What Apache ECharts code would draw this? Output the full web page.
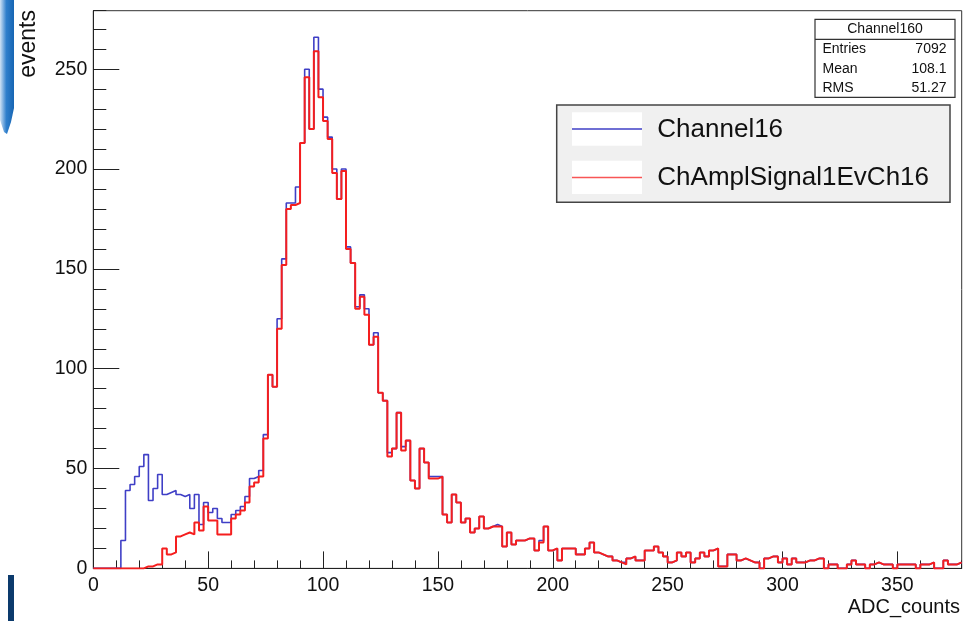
<!DOCTYPE html>
<html>
<head>
<meta charset="utf-8">
<script src="https://cdn.jsdelivr.net/npm/echarts@6/dist/echarts.min.js"></script>
<style>
  html, body { margin: 0; padding: 0; background: #ffffff; }
  #chart { width: 968px; height: 621px; }
</style>
</head>
<body>
<div id="chart"></div>
<script>
// Histogram binning (ADC counts)
const binWidth = 2;
const xMin = 0;
const xMax = 378;
const yMax = 279.3;

// Bin contents, one value per 2-count bin starting at 0
const channel16 = [
  0, 0, 0, 0, 0, 0,
  14, 39, 42, 46, 51, 57,
  34, 40, 47, 37, 38, 39,
  37, 36, 37, 30, 37, 22,
  33, 28, 30, 25, 23, 23,
  27, 29, 31, 36, 45, 46,
  49, 67, 97, 91, 125, 155,
  183, 183, 191, 213, 250, 220,
  266, 240, 226, 216, 200, 185,
  200, 161, 153, 131, 137, 130,
  112, 118, 88, 84, 58, 60,
  78, 61, 64, 44, 40, 60,
  53, 46, 46, 46, 27, 23,
  37, 33, 23, 25, 18, 20,
  26, 20, 21, 22, 21, 11,
  18, 12, 14, 14, 15, 15,
  9, 14, 21, 9, 10, 4,
  10, 10, 10, 7, 7, 10,
  13, 8, 7, 6, 6, 4,
  3, 3, 5, 6, 4, 4,
  9, 9, 11, 8, 6, 3,
  4, 8, 6, 8, 3, 5,
  8, 6, 9, 10, 1, 1,
  7, 7, 4, 5, 4, 3,
  3, 0, 5, 6, 6, 3,
  5, 2, 5, 3, 3, 4,
  4, 5, 5, 0, 2, 2,
  0, 0, 2, 4, 2, 2,
  0, 2, 3, 2, 2, 2,
  0, 2, 2, 2, 2, 0,
  2, 2, 3, 0, 0, 4,
  2, 2, 3
];

const chAmplSignal1EvCh16 = [
  0, 0, 0, 0, 0, 0,
  0, 0, 0, 0, 0, 1,
  1, 2, 2, 10, 7, 8,
  16, 17, 18, 17, 23, 19,
  31, 24, 24, 17, 17, 17,
  25, 27, 29, 33, 41, 43,
  46, 65, 97, 91, 120, 152,
  180, 182, 183, 213, 246, 220,
  259, 236, 224, 215, 198, 185,
  199, 160, 153, 130, 136, 127,
  112, 116, 88, 84, 56, 60,
  78, 59, 64, 44, 40, 60,
  53, 45, 45, 46, 27, 23,
  37, 33, 23, 25, 18, 20,
  26, 20, 21, 21, 21, 11,
  18, 12, 14, 14, 15, 15,
  9, 13, 21, 9, 10, 4,
  10, 10, 10, 7, 7, 10,
  13, 8, 7, 6, 6, 4,
  3, 2, 5, 6, 4, 4,
  9, 9, 11, 8, 6, 3,
  4, 8, 6, 8, 3, 5,
  8, 6, 9, 10, 1, 1,
  7, 7, 4, 5, 4, 3,
  3, 0, 5, 6, 6, 3,
  5, 2, 5, 3, 3, 4,
  4, 5, 5, 0, 2, 2,
  0, 0, 2, 4, 2, 2,
  0, 2, 3, 2, 2, 2,
  0, 2, 2, 2, 2, 0,
  2, 2, 3, 0, 0, 4,
  2, 2, 3
];

// Statistics box contents
const statsTitle = 'Channel160';
const statsLabels = ['Entries', 'Mean', 'RMS'];
const statsValues = ['7092', '108.1', '51.27'];

const seriesNames = ['Channel16', 'ChAmplSignal1EvCh16'];
const seriesColors = ['#3f3fc6', '#f51e1e'];

const FONT = '"Liberation Sans", Arial, Helvetica, sans-serif';

// Turn bin contents into a histogram outline: flat top across each bin
function histOutline(counts) {
  const pts = [];
  counts.forEach(function (c, i) {
    const lo = xMin + i * binWidth;
    pts.push([lo, c]);
    pts.push([lo + binWidth, c]);
  });
  return pts;
}

const chart = echarts.init(document.getElementById('chart'), null, { renderer: 'canvas' });

const axisColor = '#222222';

const option = {
  animation: false,
  backgroundColor: '#ffffff',
  grid: {
    left: 93.3, right: 6.3, top: 10.7, bottom: 52.6,
    show: true, borderColor: '#333333', borderWidth: 1, backgroundColor: 'transparent'
  },
  xAxis: [
    {
      type: 'value', min: xMin, max: xMax, interval: 50, position: 'bottom',
      axisLine: { onZero: false, lineStyle: { color: axisColor, width: 1 } },
      axisTick: { inside: true, length: 17, lineStyle: { color: axisColor, width: 1 } },
      axisLabel: { showMaxLabel: false, fontSize: 19.5, color: '#111', margin: 7, fontFamily: FONT },
      splitLine: { show: false }
    },
    {
      type: 'value', min: xMin, max: xMax, interval: 10, position: 'bottom',
      axisLine: { show: false, onZero: false },
      axisTick: { inside: true, length: 8, lineStyle: { color: axisColor, width: 1 } },
      axisLabel: { show: false },
      splitLine: { show: false }
    }
  ],
  yAxis: [
    {
      type: 'value', min: 0, max: yMax, interval: 50, position: 'left',
      axisLine: { show: true, onZero: false, lineStyle: { color: axisColor, width: 1 } },
      axisTick: { show: true, inside: true, length: 26, lineStyle: { color: axisColor, width: 1 } },
      axisLabel: { showMaxLabel: false, fontSize: 19.5, color: '#111', margin: 6, fontFamily: FONT },
      splitLine: { show: false }
    },
    {
      type: 'value', min: 0, max: yMax, interval: 10, position: 'left',
      axisLine: { show: false, onZero: false },
      axisTick: { show: true, inside: true, length: 13, lineStyle: { color: axisColor, width: 1 } },
      axisLabel: { show: false },
      splitLine: { show: false }
    }
  ],
  series: [
    {
      name: seriesNames[0], type: 'line', xAxisIndex: 0, yAxisIndex: 0,
      data: histOutline(channel16), showSymbol: false, symbol: 'none',
      lineStyle: { color: seriesColors[0], width: 1.6 }, z: 3
    },
    {
      name: seriesNames[1], type: 'line', xAxisIndex: 0, yAxisIndex: 0,
      data: histOutline(chAmplSignal1EvCh16), showSymbol: false, symbol: 'none',
      lineStyle: { color: seriesColors[1], width: 2 }, z: 4
    }
  ],
  graphic: [
    // slide decorations at the left edge
    {
      type: 'polygon', silent: true, z: 0,
      shape: { points: [[0, 0], [14, 0], [14, 108], [11, 122], [7, 134], [4, 132], [0, 120]] },
      style: {
        fill: new echarts.graphic.LinearGradient(0, 0, 1, 0, [
          { offset: 0, color: '#cfe2f5' },
          { offset: 0.45, color: '#2f7fcc' },
          { offset: 1, color: '#1765b3' }
        ])
      }
    },
    { type: 'rect', silent: true, z: 0, shape: { x: 8, y: 575, width: 6, height: 46 }, style: { fill: '#0c3a6c' } },

    // axis titles
    {
      type: 'text', x: 28.5, y: 10, rotation: Math.PI / 2, z: 10,
      style: { text: 'events', font: '23px ' + FONT, fill: '#111', align: 'right', verticalAlign: 'middle' }
    },
    {
      type: 'text', x: 960, y: 607, z: 10,
      style: { text: 'ADC_counts', font: '20px ' + FONT, fill: '#111', align: 'right', verticalAlign: 'middle' }
    },

    // statistics box
    {
      type: 'group', z: 20,
      children: [
        { type: 'rect', shape: { x: 815, y: 19.3, width: 140, height: 78 }, style: { fill: '#ffffff', stroke: '#333', lineWidth: 1.2 } },
        { type: 'line', shape: { x1: 815, y1: 39.3, x2: 955, y2: 39.3 }, style: { stroke: '#333', lineWidth: 1.2 } },
        { type: 'text', x: 885, y: 29.5, style: { text: statsTitle, font: '14px ' + FONT, fill: '#111', align: 'center', verticalAlign: 'middle' } },
        { type: 'text', x: 822.5, y: 49.3, style: { text: statsLabels[0], font: '14px ' + FONT, fill: '#111', align: 'left', verticalAlign: 'middle' } },
        { type: 'text', x: 946.5, y: 49.3, style: { text: statsValues[0], font: '14px ' + FONT, fill: '#111', align: 'right', verticalAlign: 'middle' } },
        { type: 'text', x: 822.5, y: 69.5, style: { text: statsLabels[1], font: '14px ' + FONT, fill: '#111', align: 'left', verticalAlign: 'middle' } },
        { type: 'text', x: 946.5, y: 69.5, style: { text: statsValues[1], font: '14px ' + FONT, fill: '#111', align: 'right', verticalAlign: 'middle' } },
        { type: 'text', x: 822.5, y: 88.5, style: { text: statsLabels[2], font: '14px ' + FONT, fill: '#111', align: 'left', verticalAlign: 'middle' } },
        { type: 'text', x: 946.5, y: 88.5, style: { text: statsValues[2], font: '14px ' + FONT, fill: '#111', align: 'right', verticalAlign: 'middle' } }
      ]
    },

    // legend
    {
      type: 'group', z: 20,
      children: [
        { type: 'rect', shape: { x: 556.7, y: 105, width: 393.3, height: 97.3 }, style: { fill: '#f0f0f0', stroke: '#444', lineWidth: 1.5 } },
        { type: 'rect', shape: { x: 572, y: 112.3, width: 70, height: 33.4 }, style: { fill: '#ffffff' } },
        { type: 'rect', shape: { x: 572, y: 160.7, width: 70, height: 33.4 }, style: { fill: '#ffffff' } },
        { type: 'line', shape: { x1: 572, y1: 129, x2: 642, y2: 129 }, style: { stroke: seriesColors[0], lineWidth: 1.5 } },
        { type: 'line', shape: { x1: 572, y1: 177.5, x2: 642, y2: 177.5 }, style: { stroke: seriesColors[1], lineWidth: 1.5, opacity: 0.75 } },
        { type: 'text', x: 657.3, y: 130, style: { text: seriesNames[0], font: '26px ' + FONT, fill: '#111', align: 'left', verticalAlign: 'middle' } },
        { type: 'text', x: 657.3, y: 177.5, style: { text: seriesNames[1], font: '26px ' + FONT, fill: '#111', align: 'left', verticalAlign: 'middle' } }
      ]
    }
  ]
};

chart.setOption(option);
</script>
</body>
</html>
